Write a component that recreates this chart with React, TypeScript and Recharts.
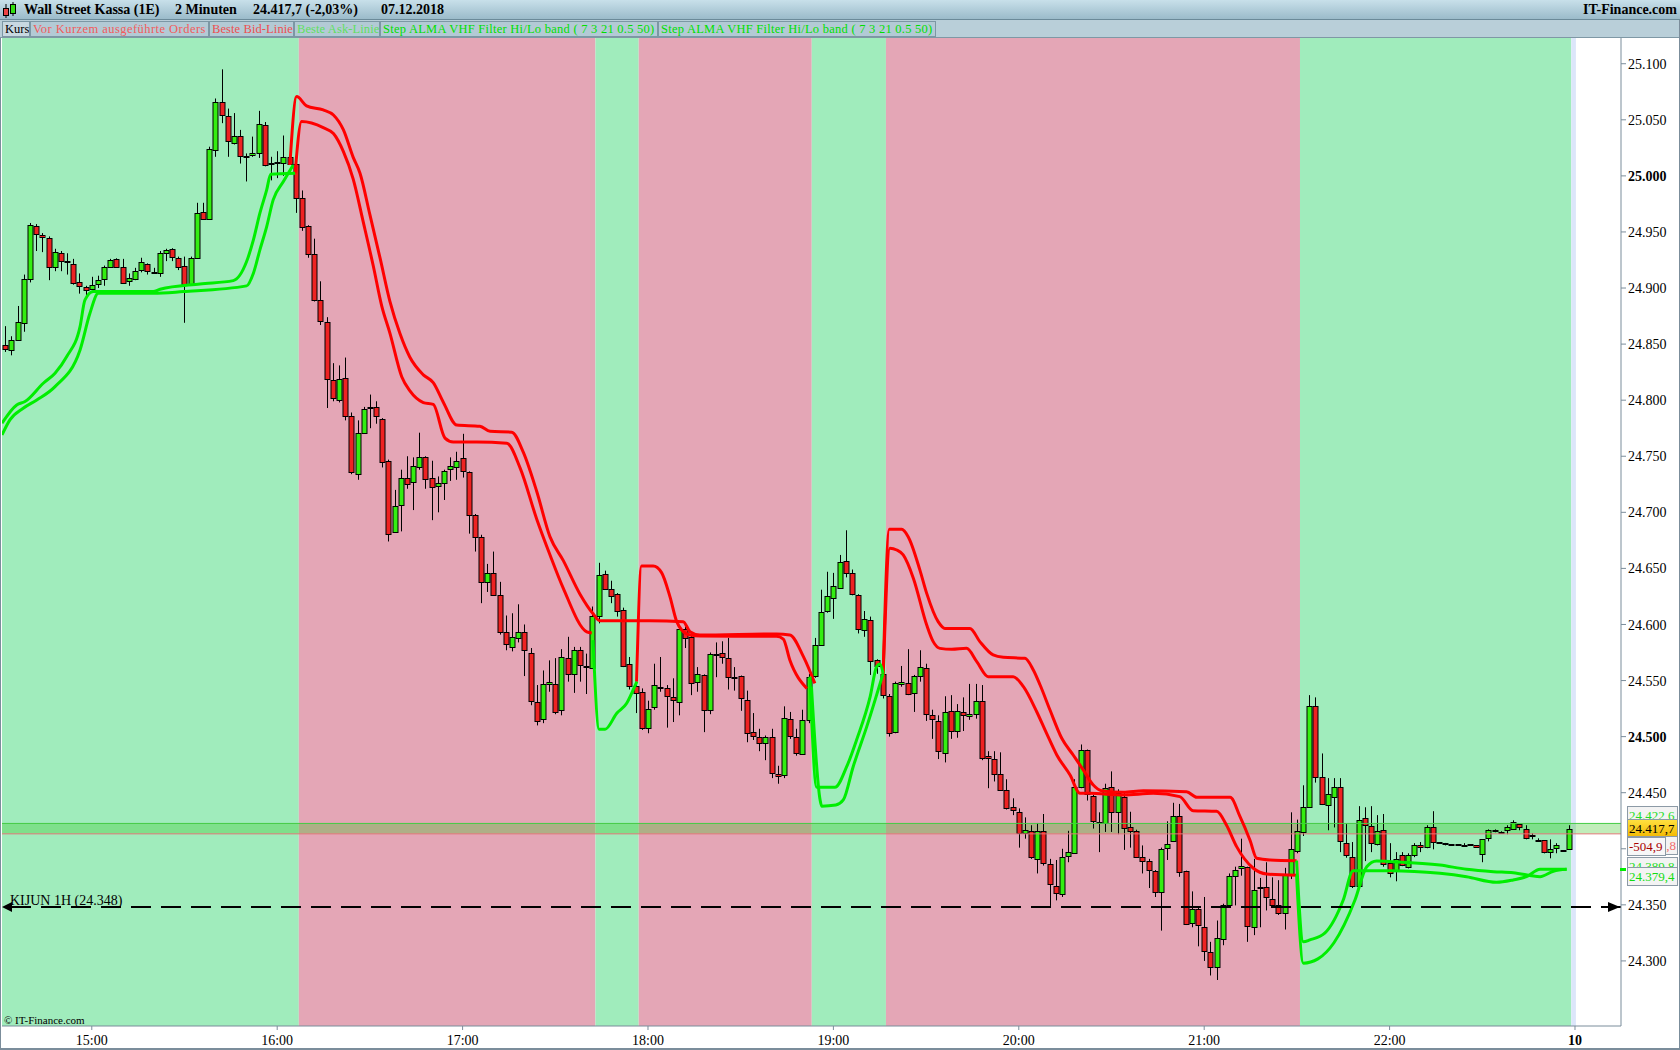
import React from "react";
import { ComposedChart, Bar, Line, XAxis, YAxis, ReferenceArea, ReferenceLine } from "recharts";

// 2-minute candles, time in minutes after 15:00 (first candle 14:32)
const firstMinute = -28;

const opens = [
  24849, 24845, 24854, 24869, 24908, 24955, 24947, 24945, 24919, 24931,
  24924, 24921, 24905, 24901, 24899, 24903, 24908, 24919, 24926, 24919,
  24906, 24908, 24916, 24921, 24914.5, 24913, 24931, 24935, 24927, 24920,
  24903, 24927, 24968, 24962, 25023, 25066, 25053, 25030, 25036, 25017.5,
  25018, 25020, 25045, 25011.5, 25012, 25012, 25017, 25011, 24980, 24955,
  24930, 24889, 24870, 24818, 24800, 24820, 24786, 24734, 24771, 24793,
  24794, 24783, 24746, 24683, 24707, 24731, 24727, 24740, 24749, 24731,
  24723, 24726, 24738, 24741, 24748, 24736, 24698, 24678, 24638, 24646,
  24626, 24593, 24580, 24588, 24593, 24575, 24531, 24516, 24547, 24547,
  24524, 24570, 24556, 24577, 24563, 24562, 24607, 24645, 24632, 24627,
  24613, 24565, 24545, 24540, 24508, 24526, 24544.5, 24543, 24535, 24531,
  24596, 24589, 24549, 24555, 24524, 24573.5, 24575, 24570, 24553.5, 24554,
  24533, 24504, 24500, 24495, 24500, 24467, 24466, 24516, 24500, 24485,
  24515, 24554, 24582, 24612, 24623, 24633, 24657, 24646, 24626, 24595,
  24604, 24568, 24556, 24536, 24504, 24546.5, 24548, 24539, 24554, 24561,
  24519, 24514, 24485, 24523, 24505.5, 24522, 24518, 24520, 24532, 24482.4,
  24480, 24467, 24452, 24437, 24433, 24414, 24415.5, 24391, 24415.5, 24386,
  24367, 24360, 24394, 24396.5, 24455, 24488, 24447, 24424, 24423, 24455,
  24433, 24446, 24419, 24415.5, 24392.5, 24389, 24380, 24362, 24400, 24406.5,
  24429, 24380, 24333.5, 24346, 24330, 24308, 24294, 24320, 24350, 24376,
  24382.5, 24383.5, 24330, 24365.5, 24365.5, 24355, 24349.5, 24343, 24376.5, 24397.5,
  24414.7, 24437, 24527, 24464, 24439, 24447, 24455, 24405, 24392.5, 24367.5,
  24427, 24420, 24404, 24417, 24387, 24381, 24394, 24383.5, 24394, 24403,
  24401.5, 24419, 24405.8, 24405, 24404, 24404, 24403.6, 24404, 24403.1, 24395,
  24409.3, 24416.2, 24414.7, 24416.5, 24417.3, 24421.8, 24417.3, 24412, 24407.5, 24407.5,
  24396.8, 24400.4, 24398.6, 24399.5,
];

const highs = [
  24866, 24857, 24884, 24912, 24958, 24957, 24949, 24946, 24935, 24933,
  24931, 24926, 24913, 24902, 24910, 24911, 24920, 24926, 24926.5, 24926,
  24913, 24918, 24927, 24922, 24918, 24933, 24935, 24935.5, 24928, 24928,
  24928, 24976, 24976, 25026, 25069, 25095, 25060, 25056, 25041, 25020,
  25035, 25058, 25048, 25017, 25022, 25036, 25029, 25013, 24987, 24956,
  24944, 24906, 24874, 24833, 24831, 24838, 24789, 24782, 24794, 24805,
  24799, 24784, 24747, 24720, 24738, 24750, 24749, 24771, 24750, 24746,
  24732, 24738, 24749, 24754, 24770, 24736.5, 24698.5, 24680, 24654, 24665,
  24638, 24608, 24610, 24618, 24600, 24579, 24546, 24559, 24568, 24570,
  24578, 24589, 24580, 24580, 24574, 24616, 24655, 24648, 24639, 24628,
  24615, 24571, 24548, 24543, 24532, 24565, 24571, 24546, 24552, 24598,
  24598, 24592, 24562, 24555.5, 24575, 24584, 24585, 24588, 24562, 24554.5,
  24541, 24521, 24507, 24501, 24507, 24474, 24527, 24522, 24507, 24524,
  24556, 24588, 24631, 24647, 24646, 24662, 24684, 24649, 24627, 24612,
  24607, 24569, 24556.5, 24538, 24549, 24563, 24578, 24555, 24577, 24565,
  24524, 24519, 24536, 24537, 24529, 24535, 24547, 24547, 24546, 24487,
  24487, 24486, 24462, 24445, 24436, 24428, 24421, 24423, 24431, 24391,
  24390, 24400, 24416, 24462, 24493, 24488.5, 24448, 24432.5, 24458, 24469,
  24453, 24449.5, 24433, 24417, 24403, 24391, 24381, 24401, 24424.5, 24441,
  24440, 24380.5, 24362, 24348, 24357, 24317, 24336, 24351, 24378, 24384,
  24409, 24384, 24391, 24374, 24388, 24374.5, 24372, 24383, 24432.5, 24426,
  24456.6, 24537, 24535, 24485, 24463, 24463, 24463, 24422, 24406, 24438,
  24437, 24438, 24430, 24431, 24405, 24397, 24397, 24396, 24405, 24406,
  24421, 24433.5, 24406, 24405.2, 24404.2, 24404.2, 24405, 24404.1, 24403.2, 24408.6,
  24417.3, 24417.3, 24415.6, 24421, 24425.4, 24422, 24421, 24413.8, 24409.3, 24407.7,
  24408.4, 24405, 24398.8, 24421,
];

const lows = [
  24843, 24840, 24853, 24861, 24905, 24933, 24932, 24907, 24915, 24915,
  24912, 24903, 24895, 24891, 24898, 24900, 24902, 24918, 24919, 24904,
  24902, 24907, 24914, 24912, 24913, 24910, 24924, 24924, 24916, 24869,
  24902, 24926, 24961, 24961, 25017, 25047, 25017, 25028, 25011, 24995,
  25017, 25016, 25008.5, 24996, 24998, 25000, 25010.5, 24967, 24951, 24927,
  24888, 24867, 24793, 24799, 24798, 24782, 24734, 24729, 24770, 24775,
  24779, 24740, 24674, 24682, 24683, 24721, 24702, 24738, 24721, 24693,
  24700, 24711, 24728, 24729, 24731, 24681, 24665, 24619, 24629, 24625.5,
  24591, 24577, 24576, 24584, 24554, 24528, 24510, 24512, 24540, 24520,
  24519, 24549, 24539, 24549, 24538, 24561, 24601, 24631.5, 24619, 24607,
  24562, 24542, 24521, 24506, 24503, 24524, 24540, 24508, 24513, 24519,
  24579, 24537, 24540, 24504, 24520, 24553, 24565, 24542, 24541, 24523,
  24495, 24497, 24487, 24479, 24463, 24458, 24463, 24498, 24483, 24484,
  24512, 24552.5, 24581, 24610.5, 24605, 24632.5, 24642, 24626, 24592, 24589,
  24555, 24556, 24534, 24500, 24503, 24544.5, 24537, 24522, 24549, 24514,
  24498, 24480, 24477, 24498, 24499, 24505, 24515, 24516, 24479, 24454,
  24460, 24452, 24435, 24430, 24401, 24409, 24391, 24378, 24385, 24349,
  24354, 24357, 24388, 24396, 24454, 24443, 24418, 24397, 24415, 24415,
  24413, 24399, 24401, 24392, 24378, 24365, 24357, 24327, 24390, 24406,
  24375, 24332, 24330, 24313, 24300, 24287, 24283, 24314, 24349.5, 24349.5,
  24376, 24317, 24323, 24330, 24345, 24348, 24341, 24328, 24373, 24396,
  24411.4, 24436.5, 24459, 24439, 24416.5, 24419, 24397, 24392, 24365, 24367,
  24389, 24397, 24403, 24384, 24374.5, 24371, 24384.5, 24382.5, 24392.5, 24397,
  24400.5, 24399.5, 24404.5, 24403, 24403, 24403, 24403, 24403, 24401, 24388,
  24406.6, 24414.7, 24413.8, 24413, 24417, 24416.5, 24408.4, 24408.4, 24406.5, 24395.9,
  24391.5, 24396, 24397.7, 24399,
];

const closes = [
  24845, 24854, 24870, 24908, 24956, 24948, 24945, 24919, 24932, 24924,
  24923, 24904, 24901, 24898, 24903, 24907, 24919, 24925, 24919, 24905,
  24909, 24915, 24923, 24915, 24914, 24931, 24934, 24928, 24919, 24904,
  24927, 24967, 24962, 25024, 25066, 25054, 25031, 25036, 25018, 25017,
  25020, 25046, 25009, 25011, 25012.5, 25017, 25011, 24981, 24954, 24930,
  24889, 24870, 24819, 24802, 24819, 24786, 24736, 24771, 24792, 24794,
  24786, 24745, 24681, 24706, 24731, 24726, 24741, 24749, 24729, 24723,
  24726, 24737, 24741, 24746, 24736, 24698, 24678, 24638, 24646, 24626,
  24593, 24582, 24589, 24593, 24577, 24532, 24514, 24547, 24549, 24522,
  24571, 24556, 24577, 24564, 24562.5, 24608, 24644, 24632, 24626, 24612,
  24563, 24545, 24539, 24508, 24525, 24546, 24544, 24536, 24532, 24596,
  24588, 24548, 24556, 24524, 24574, 24573, 24571, 24553, 24553, 24534,
  24504, 24500, 24495, 24500, 24468, 24465.5, 24517, 24501, 24486, 24515,
  24553, 24582, 24611, 24625, 24634, 24656, 24646, 24627, 24596, 24605,
  24567, 24563, 24537, 24503, 24548, 24548.5, 24538, 24554, 24562, 24520,
  24515, 24487, 24522, 24505, 24523, 24519, 24520, 24532, 24481, 24480.6,
  24467, 24453, 24436, 24434, 24414, 24416.5, 24392, 24416, 24387, 24368,
  24361, 24393, 24397.5, 24455, 24488, 24448.5, 24425, 24423.5, 24454, 24433,
  24449.5, 24418, 24415, 24392.5, 24389, 24381, 24361, 24400, 24404, 24429,
  24379, 24333, 24346, 24332, 24309, 24295, 24320, 24350, 24376, 24381,
  24384.5, 24331, 24363, 24365, 24357, 24349.5, 24342.5, 24376.5, 24399.5, 24415.5,
  24437, 24527, 24464, 24440, 24448.5, 24455.5, 24406.5, 24394, 24366.5, 24426,
  24421, 24405, 24415.5, 24387, 24378, 24390.5, 24385.5, 24394, 24403, 24401.5,
  24419, 24406, 24405, 24404, 24403.2, 24403.3, 24403.4, 24403.1, 24401.3, 24408.4,
  24416.5, 24416.5, 24414.5, 24419, 24423.6, 24419, 24409.3, 24411.8, 24406.6, 24396.8,
  24399.5, 24403, 24397.9, 24417.7,
];

// trend state zones (minutes after 15:00)
const zones = [
  { from: -29.06, to: 67, kind: "up" },
  { from: 67, to: 163, kind: "down" },
  { from: 163, to: 177, kind: "up" },
  { from: 177, to: 233, kind: "down" },
  { from: 233, to: 257, kind: "up" },
  { from: 257, to: 391, kind: "down" },
  { from: 391, to: 478.8, kind: "up" },
];

// Step ALMA VHF Hi/Lo band, vertices [minute, price]
const greenBandA: [number, number][][] = [
  [[-29.06, 24779.4], [-24.3, 24795.7], [-21.6, 24798.8], [-15.7, 24815.1], [-11.9, 24824], [-8.1, 24838.9], [-3.8, 24865.6], [-2.2, 24889.4], [0.5, 24896.8], [19.9, 24896.8], [22.1, 24898.9], [35, 24903.6], [45.8, 24906.6], [50.1, 24923.6], [52.3, 24942.9], [54.4, 24966.7], [56.6, 24987.5], [57.9, 25001.4], [65.8, 25002.3]],
  [[162.2, 24586], [164.2, 24506.5], [166.1, 24506.5], [169.9, 24520.8], [173.1, 24529.7], [175.2, 24541.6], [176.4, 24549]],
  [[232.4, 24553.5], [234.6, 24454.8], [240.5, 24454.8], [244.3, 24473.2], [247.5, 24497], [251.9, 24535.6], [254, 24562.4], [255.1, 24564.8], [256.1, 24556.4]],
  [[389.9, 24389.4], [392.1, 24317], [394.2, 24318.7], [399.1, 24325], [405, 24354.3], [408.2, 24380.5], [420.1, 24380.5], [436.3, 24378.1], [444.9, 24375.1], [454.6, 24370.1], [460, 24372.2], [464.3, 24375.1], [468.7, 24381.7], [477.3, 24381.7]],
];
const greenBandB: [number, number][][] = [
  [[-29.06, 24769], [-26.5, 24782.4], [-22.2, 24792.8], [-17.8, 24800.2], [-11.9, 24812.1], [-3.8, 24844.8], [-0.6, 24877.5], [2.1, 24895.3], [19.9, 24895.3], [29.6, 24896.8], [50.1, 24901.9], [52.3, 24913.2], [54.4, 24934], [56.6, 24954.8], [58.7, 24978.6], [62, 24994.9], [65.2, 25009.7]],
  [[232.9, 24544.6], [235.7, 24443.5], [236.2, 24438], [240.8, 24439], [243.2, 24443.5], [246.4, 24473.2], [250.8, 24508.9], [256.1, 24556.4]],
  [[389.9, 24376.3], [392.1, 24298], [396.8, 24301.8], [402, 24316.2], [408.8, 24354.3], [412.6, 24384], [415.8, 24389.1], [421.2, 24388.5], [436.3, 24385.5], [444.9, 24381.7], [453.6, 24379.6], [460, 24378.7], [468.7, 24375.1], [473, 24380], [477.3, 24381.7]],
];
const redBandA: [number, number][][] = [
  [[64.1, 25009.7], [66.3, 25070.7], [69.5, 25062.4], [74.9, 25058.8], [78.2, 25054.3], [81.4, 25041.2], [84.6, 25016.5], [86.8, 25002.4], [90, 24965.4], [93.3, 24926.6], [96.5, 24887.8], [99.7, 24859.6], [102.9, 24838.5], [107.3, 24822.6], [110.5, 24815.6], [113.8, 24797.9], [118.1, 24777.8], [125.6, 24776.8], [128.9, 24772.2], [135.9, 24771.5], [139.6, 24753.9], [144, 24718.6], [148.3, 24678.1], [152.6, 24656.9], [158, 24627], [162.3, 24609.3], [164.4, 24603.4], [180.6, 24603.4], [191.4, 24602.5], [193.6, 24593.6], [196.8, 24590.6], [221.6, 24591.5], [225.9, 24590.6], [230.3, 24571.3], [234, 24547.5]],
  [[256.1, 24556.4], [258.1, 24684.8], [262.1, 24684.8], [264.2, 24678.3], [268, 24648.5], [270.2, 24627.7], [273.9, 24602.5], [276.1, 24596.5], [284.2, 24596.5], [287.4, 24584.7], [291.7, 24572.8], [295, 24570.7], [302, 24569.8], [304.7, 24559.4], [306.9, 24546], [310.1, 24523.7], [313.9, 24498.5], [317.6, 24483.6], [320.9, 24470.2], [324.1, 24456.8], [326.8, 24451.8], [333.8, 24450.3], [340.3, 24451.8], [354.3, 24450.9], [357.6, 24445.9], [368.4, 24445.9], [371.6, 24428.6], [374.8, 24407.8], [377, 24391.5], [381.3, 24390], [389.9, 24389.4]],
];
const redBandB: [number, number][][] = [
  [[65.8, 25002.3], [67.9, 25048.4], [74.9, 25043], [78.2, 25037.7], [81.4, 25021.8], [84.6, 24997.1], [87.9, 24958.3], [91.1, 24919.6], [93.8, 24884.3], [96.5, 24859.6], [100.3, 24820.9], [102.9, 24808.5], [107.3, 24797.9], [110.5, 24796.2], [114.3, 24766.2], [117, 24762.7], [124.6, 24762.7], [134.3, 24761.6], [138.6, 24739.7], [144, 24693.9], [148.3, 24662], [152.6, 24632.2], [160.2, 24593.4], [161.8, 24592.4]],
  [[176.3, 24549], [177.9, 24652.1], [181.7, 24652.1], [184.4, 24646.2], [187.1, 24624.8], [189.3, 24602.5], [190.9, 24595.1], [193.6, 24590.6], [196.8, 24589.7], [221.6, 24589.5], [223.8, 24587], [225.9, 24568.3], [231.4, 24543]],
  [[256.1, 24553.4], [258.3, 24667.9], [260.5, 24666.4], [262.6, 24662], [265.9, 24641.1], [270.2, 24599.5], [272.3, 24584.7], [274.5, 24578.7], [278.3, 24577.8], [283.1, 24578.7], [286.4, 24566.8], [290.1, 24553.4], [298.2, 24553.4], [301.5, 24544.5], [305.8, 24522.2], [309, 24502.9], [312.3, 24483.6], [316.6, 24465.7], [319.8, 24449.4], [323, 24449.4], [333.8, 24448], [343.5, 24449.4], [352.1, 24446.5], [356.4, 24434], [364, 24433.4], [367.2, 24421.2], [370.5, 24401.9], [375.9, 24382.6], [380.2, 24377.5], [389.9, 24376.3]],
];

const priceTicks = [24300, 24350, 24400, 24450, 24500, 24550, 24600, 24650, 24700, 24750, 24800, 24850, 24900, 24950, 25000, 25050, 25100];
const boldPrices = [25000, 24500];
const timeTicks = [0, 60, 120, 180, 240, 300, 360, 420, 480];
const timeLabels = ["15:00", "16:00", "17:00", "18:00", "19:00", "20:00", "21:00", "22:00", "10"];

const kijun = 24348;
const bidPrice = 24413.3;
const askPrice = 24422.6;

const candles = opens.map((o, i) => ({
  t: firstMinute + 2 * i,
  o,
  h: highs[i],
  l: lows[i],
  c: closes[i],
  range: [lows[i], highs[i]],
}));

const toPts = (seg: [number, number][]) => seg.map(([t, v]) => ({ t, v }));

const SERIF = '"Liberation Serif", "Times New Roman", serif';

const fmtPrice = (v: number) => `${Math.floor(v / 1000)}.${String(v % 1000).padStart(3, "0")}`;

function Candle(props: any) {
  const { x, y, width, height, payload } = props;
  if (!payload || x == null) return null;
  const { o, h, l, c } = payload;
  const cx = Math.round(x + width / 2) + 0.5;
  const span = h - l;
  const py = (v: number) => (span > 0 ? y + ((h - v) / span) * height : y);
  const top = py(Math.max(o, c));
  const bot = py(Math.min(o, c));
  const up = c >= o;
  return (
    <g>
      <line x1={cx} x2={cx} y1={y} y2={y + height} stroke="#000" strokeWidth={1} />
      <rect
        x={cx - 2.5}
        y={Math.round(top) + 0.5}
        width={5}
        height={Math.max(Math.round(bot - top), 1)}
        fill={up ? "#33ee11" : "#ee2222"}
        stroke="#000"
        strokeWidth={1}
      />
    </g>
  );
}

function PriceTick(props: any) {
  const { x, y, payload } = props;
  const bold = boldPrices.includes(payload.value);
  return (
    <text x={x} y={y} dy="0.36em" fontSize={14} fontFamily={SERIF} fontWeight={bold ? "bold" : "normal"} fill="#000" textAnchor="start">
      {fmtPrice(payload.value)}
    </text>
  );
}

function TimeTick(props: any) {
  const { x, y, payload } = props;
  const idx = timeTicks.indexOf(payload.value);
  const label = timeLabels[idx];
  return (
    <text x={x} y={y} dy="0.71em" fontSize={14} fontFamily={SERIF} fontWeight={label === "10" ? "bold" : "normal"} fill="#000" textAnchor="middle">
      {label}
    </text>
  );
}

function KijunMarks(props: any) {
  const vb = props.viewBox || { x: 2, y: 906, width: 1619 };
  const { x, y, width } = vb;
  const r = x + width - 1;
  return (
    <g>
      <path d={`M${x} ${y} L${x + 10} ${y - 5} L${x + 10} ${y + 5} Z`} fill="#000" />
      <path d={`M${r} ${y} L${r - 12} ${y - 5} L${r - 12} ${y + 5} Z`} fill="#000" />
      <text x={x + 8} y={y - 2} fontSize={14} fontFamily={SERIF} fill="#000">
        KIJUN 1H (24.348)
      </text>
    </g>
  );
}

const legendItems = [
  { text: "Kurs", left: 2, width: 28, color: "#000", bg: "#c9d9e1", ls: 0 },
  { text: "Vor Kurzem ausgeführte Orders", left: 30, width: 179, color: "#f25c5c", bg: "#b3cad5", ls: 0.45 },
  { text: "Beste Bid-Linie", left: 209, width: 85, color: "#ee5050", bg: "#b3cad5", ls: 0.1 },
  { text: "Beste Ask-Linie", left: 294, width: 86, color: "#5fe05f", bg: "#b3cad5", ls: 0.1 },
  { text: "Step ALMA VHF Filter Hi/Lo band ( 7 3 21 0.5 50)", left: 380, width: 278, color: "#00e000", bg: "#b3cad5", ls: 0.25 },
  { text: "Step ALMA VHF Filter Hi/Lo band ( 7 3 21 0.5 50)", left: 658, width: 278, color: "#00e000", bg: "#b3cad5", ls: 0.25 },
];

const priceBoxes = [
  { text: "24.422,6", top: 806, left: 1627, width: 51, color: "#22dd22", bg: "#f3f3f3" },
  { text: "24.417,7", top: 819, left: 1627, width: 51, color: "#000", bg: "linear-gradient(#ffe040, #f2b800)" },
  { text: "24.40 ,8", top: 836, left: 1627, width: 51, color: "#f06a6a", bg: "#f3f3f3", align: "right" },
  { text: "-504,9", top: 837, left: 1627, width: 39, color: "#a80000", bg: "#f7f7f7" },
  { text: "24.389,8", top: 857, left: 1627, width: 51, color: "#22dd22", bg: "#f3f3f3" },
  { text: "24.379,4", top: 867, left: 1627, width: 51, color: "#11dd11", bg: "#f3f3f3" },
];

export default function App() {
  return (
    <div style={{ position: "absolute", left: 0, top: 0, width: 1680, height: 1050, background: "#fff", overflow: "hidden", fontFamily: SERIF }}>
      <ComposedChart width={1680} height={1050} data={candles} margin={{ top: 38, right: 0, bottom: 0, left: 2 }}>
        {zones.map((z, i) => (
          <ReferenceArea key={`z${i}`} x1={z.from} x2={z.to} fill={z.kind === "up" ? "#a0ecbc" : "#e4a6b6"} fillOpacity={1} stroke="none" ifOverflow="hidden" />
        ))}
        <ReferenceArea x1={478.8} x2={480.3} fill="#dce6fa" fillOpacity={1} stroke="none" ifOverflow="hidden" />
        <ReferenceArea y1={bidPrice} y2={askPrice} fill="#33c419" fillOpacity={0.3} stroke="none" ifOverflow="hidden" />
        <ReferenceLine y={askPrice} stroke="#44cc44" strokeWidth={1} ifOverflow="hidden" />
        <ReferenceLine y={bidPrice} stroke="#e07878" strokeWidth={1} ifOverflow="hidden" />
        <XAxis
          dataKey="t"
          type="number"
          domain={[-29.06, 494.89]}
          allowDataOverflow
          ticks={timeTicks}
          interval={0}
          height={24}
          tickSize={4}
          tickMargin={5}
          stroke="#7b8d9b"
          tick={<TimeTick />}
        />
        <YAxis
          orientation="right"
          domain={[24241.97, 25122.94]}
          allowDataOverflow
          ticks={priceTicks}
          interval={0}
          width={59}
          tickSize={5}
          tickMargin={2}
          stroke="#7b8d9b"
          tick={<PriceTick />}
        />
        <Bar dataKey="range" barSize={5} shape={(p: any) => <Candle {...p} />} isAnimationActive={false} />
        {redBandA.concat(redBandB).map((seg, i) => (
          <Line key={`r${i}`} data={toPts(seg)} dataKey="v" type="monotone" stroke="#ff0000" strokeWidth={3} dot={false} activeDot={false} isAnimationActive={false} />
        ))}
        {greenBandA.concat(greenBandB).map((seg, i) => (
          <Line key={`g${i}`} data={toPts(seg)} dataKey="v" type="monotone" stroke="#00ee00" strokeWidth={3} dot={false} activeDot={false} isAnimationActive={false} />
        ))}
        <ReferenceLine y={kijun} stroke="#000" strokeWidth={2} strokeDasharray="20 10" ifOverflow="hidden" label={<KijunMarks />} />
      </ComposedChart>

      {/* title bar */}
      <div style={{ position: "absolute", left: 0, top: 0, width: 1680, height: 20, background: "linear-gradient(#c8e0ea, #9bbbca)", borderBottom: "1px solid #6b8a99", boxSizing: "border-box" }}>
        <svg width={16} height={18} style={{ position: "absolute", left: 2, top: 1 }}>
          <line x1={4} y1={3} x2={4} y2={17} stroke="#000" />
          <rect x={1.5} y={7.5} width={5} height={7} fill="#ee4444" stroke="#000" />
          <line x1={11} y1={1} x2={11} y2={15} stroke="#000" />
          <rect x={8.5} y={3.5} width={5} height={9} fill="#33dd11" stroke="#000" />
        </svg>
        {[
          { t: "Wall Street Kassa (1E)", l: 24 },
          { t: "2 Minuten", l: 175 },
          { t: "24.417,7 (-2,03%)", l: 253 },
          { t: "07.12.2018", l: 381 },
        ].map((s) => (
          <span key={s.t} style={{ position: "absolute", left: s.l, top: 0, lineHeight: "20px", fontSize: 14, fontWeight: "bold", color: "#000", whiteSpace: "nowrap" }}>
            {s.t}
          </span>
        ))}
        <span style={{ position: "absolute", right: 3, top: 0, lineHeight: "20px", fontSize: 14, fontWeight: "bold", color: "#000" }}>IT-Finance.com</span>
      </div>

      {/* legend row */}
      <div style={{ position: "absolute", left: 0, top: 20, width: 1680, height: 18, background: "#b9cfd9", borderBottom: "1px solid #7f98a5", boxSizing: "border-box" }}>
        {legendItems.map((it, i) => (
          <div
            key={i}
            style={{
              position: "absolute",
              left: it.left,
              top: 1,
              width: it.width,
              height: 16,
              boxSizing: "border-box",
              border: "1px solid #7c97a4",
              background: it.bg,
              color: it.color,
              fontSize: 12.5,
              letterSpacing: it.ls,
              lineHeight: "14px",
              paddingLeft: 2,
              whiteSpace: "nowrap",
              overflow: "hidden",
            }}
          >
            {it.text}
          </div>
        ))}
      </div>

      {/* frame lines */}
      <div style={{ position: "absolute", left: 0, top: 38, width: 1, height: 1011, background: "#7b8d9b" }} />
      <div style={{ position: "absolute", left: 0, top: 1048, width: 1680, height: 2, background: "#7b8d9b" }} />
      <div style={{ position: "absolute", left: 1679, top: 20, width: 1, height: 1030, background: "#7b8d9b" }} />

      {/* last values on price scale */}
      {priceBoxes.map((b, i) => (
        <div
          key={i}
          style={{
            position: "absolute",
            left: b.left,
            top: b.top,
            width: b.width,
            height: 19,
            boxSizing: "border-box",
            border: "1px solid #8c9aa6",
            background: b.bg,
            color: b.color,
            fontSize: 13,
            lineHeight: "17px",
            paddingLeft: 1,
            paddingRight: 1,
            textAlign: (b as any).align === "right" ? "right" : "left",
            whiteSpace: "nowrap",
            overflow: "hidden",
          }}
        >
          {b.text}
        </div>
      ))}
      <div style={{ position: "absolute", left: 1620, top: 868, width: 6, height: 3, background: "#00ee00" }} />

      <div style={{ position: "absolute", left: 4, top: 1014, fontSize: 11, color: "#000", whiteSpace: "nowrap" }}>© IT-Finance.com</div>
    </div>
  );
}
